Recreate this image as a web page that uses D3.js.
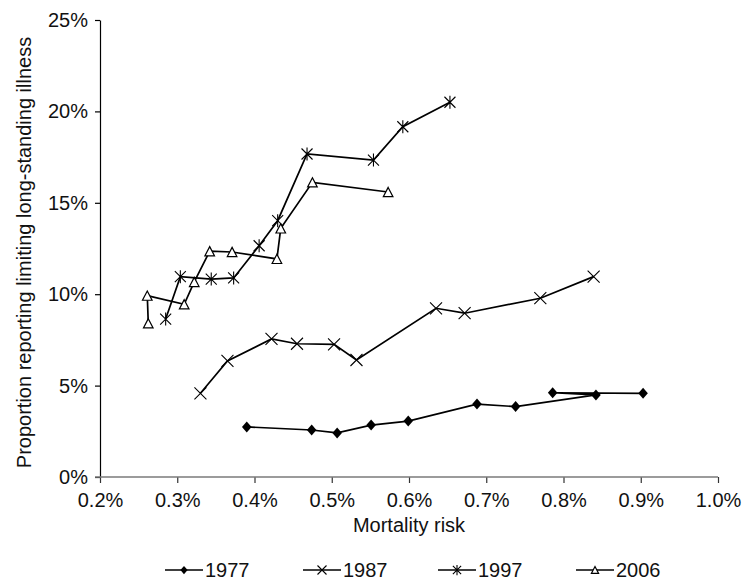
<!DOCTYPE html>
<html>
<head>
<meta charset="utf-8">
<script src="https://cdn.jsdelivr.net/npm/d3@7/dist/d3.min.js"></script>
<style>
  html, body { margin: 0; padding: 0; background: #fff; }
  svg { display: block; font-family: "Liberation Sans", Arial, sans-serif; }
</style>
</head>
<body>
<svg id="chart" width="744" height="581"></svg>
<script>
// Mortality risk (%) and proportion reporting limiting long-standing illness (%), by survey year
const years = ["1977", "1987", "1997", "2006"];

const mort1977 = [0.39, 0.474, 0.507, 0.551, 0.599, 0.688, 0.738, 0.842, 0.786, 0.903];
const ill1977  = [2.74, 2.57, 2.41, 2.84, 3.06, 3.99, 3.85, 4.49, 4.61, 4.58];

const mort1987 = [0.330, 0.365, 0.422, 0.455, 0.503, 0.532, 0.635, 0.672, 0.770, 0.839];
const ill1987  = [4.58, 6.35, 7.55, 7.29, 7.26, 6.40, 9.23, 8.96, 9.78, 10.96];

const mort1997 = [0.285, 0.304, 0.344, 0.373, 0.406, 0.430, 0.468, 0.554, 0.592, 0.653];
const ill1997  = [8.64, 10.96, 10.83, 10.89, 12.65, 14.02, 17.67, 17.34, 19.16, 20.50];

const mort2006 = [0.2625, 0.2612, 0.309, 0.322, 0.342, 0.371, 0.429, 0.434, 0.475, 0.573];
const ill2006  = [8.41, 9.92, 9.45, 10.67, 12.35, 12.31, 11.93, 13.60, 16.12, 15.59];

const xTicks = [0.2, 0.3, 0.4, 0.5, 0.6, 0.7, 0.8, 0.9, 1.0];
const yTicks = [0, 5, 10, 15, 20, 25];

const series = [
  { name: years[0], x: mort1977, y: ill1977, marker: "diamond" },
  { name: years[1], x: mort1987, y: ill1987, marker: "cross" },
  { name: years[2], x: mort1997, y: ill1997, marker: "star" },
  { name: years[3], x: mort2006, y: ill2006, marker: "triangle" }
];

const svg = d3.select("#chart");
const plotLeft = 100, plotRight = 718, plotTop = 20, plotBottom = 477;

const x = d3.scaleLinear().domain([0.2, 1.0]).range([plotLeft, plotRight]);
const y = d3.scaleLinear().domain([0, 25]).range([plotBottom, plotTop]);

// Axes
const yAxis = svg.append("g")
  .attr("transform", `translate(${plotLeft},0)`)
  .call(d3.axisLeft(y).tickValues(yTicks).tickSize(5).tickSizeOuter(0)
        .tickFormat(d => d + "%"));
yAxis.select(".domain").attr("stroke", "#000").attr("stroke-width", 1.2);
yAxis.selectAll(".tick line").attr("stroke", "#000").attr("stroke-width", 1.2);
yAxis.selectAll(".tick text").attr("font-size", 20).attr("fill", "#111")
  .attr("font-family", "Liberation Sans, Arial, sans-serif").attr("x", -12);

const xAxis = svg.append("g")
  .attr("transform", `translate(0,${plotBottom})`)
  .call(d3.axisBottom(x).tickValues(xTicks).tickSize(6).tickSizeOuter(0)
        .tickFormat(d => d3.format(".1f")(d) + "%"));
xAxis.select(".domain").remove();
xAxis.selectAll(".tick line").attr("stroke", "#333").attr("stroke-width", 1.2);
xAxis.selectAll(".tick text").attr("font-size", 20).attr("fill", "#111")
  .attr("font-family", "Liberation Sans, Arial, sans-serif").attr("dy", "1.05em");
// grey baseline, running a little left of the y axis
svg.append("line").attr("x1", plotLeft - 5).attr("x2", plotRight).attr("y1", plotBottom).attr("y2", plotBottom)
  .attr("stroke", "#7a7a7a").attr("stroke-width", 1.6);

// Axis titles
svg.append("text")
  .attr("x", (plotLeft + plotRight) / 2).attr("y", 532)
  .attr("text-anchor", "middle").attr("font-size", 20).attr("fill", "#111")
  .text("Mortality risk");
svg.append("text")
  .attr("transform", `translate(31,${(plotTop + plotBottom) / 2 + 4}) rotate(-90)`)
  .attr("text-anchor", "middle").attr("font-size", 20).attr("fill", "#111")
  .text("Proportion reporting limiting long-standing illness");

// Marker drawing
function drawMarker(g, type, s) {
  if (type === "diamond") {
    g.append("path")
      .attr("d", `M0,${-5.5 * s}L${4.8 * s},0L0,${5.5 * s}L${-4.8 * s},0Z`)
      .attr("fill", "#000");
  } else if (type === "cross") {
    const h = 6 * s;
    g.append("path").attr("d", `M${-h},${-h}L${h},${h}M${-h},${h}L${h},${-h}`)
      .attr("stroke", "#000").attr("stroke-width", 1.1).attr("fill", "none");
  } else if (type === "star") {
    const h = 5.5 * s;
    g.append("path").attr("d", `M${-h},${-h}L${h},${h}M${-h},${h}L${h},${-h}M0,${-h - 1}L0,${h + 1}`)
      .attr("stroke", "#000").attr("stroke-width", 1.1).attr("fill", "none");
  } else if (type === "triangle") {
    const w = 4.8 * s, hh = 4.6 * s;
    g.append("path").attr("d", `M0,${-hh}L${w},${hh}L${-w},${hh}Z`)
      .attr("stroke", "#000").attr("stroke-width", 1.2).attr("fill", "#fff");
  }
}

const line = d3.line().x(d => x(d[0])).y(d => y(d[1]));

series.forEach(s => {
  const pts = s.x.map((v, i) => [v, s.y[i]]);
  svg.append("path").datum(pts)
    .attr("d", line).attr("fill", "none")
    .attr("stroke", "#000").attr("stroke-width", 1.7);
});
series.forEach(s => {
  const pts = s.x.map((v, i) => [v, s.y[i]]);
  svg.append("g").selectAll("g").data(pts).join("g")
    .attr("transform", d => `translate(${x(d[0])},${y(d[1])})`)
    .each(function () { drawMarker(d3.select(this), s.marker, 1); });
});

// Legend
const legendX = [165, 303, 438, 576];
const legendY = 570;
series.forEach((s, i) => {
  const g = svg.append("g").attr("transform", `translate(${legendX[i]},${legendY})`);
  g.append("line").attr("x1", 0).attr("x2", 38).attr("y1", 0).attr("y2", 0)
    .attr("stroke", "#000").attr("stroke-width", 1.7);
  const m = g.append("g").attr("transform", "translate(19,0)");
  drawMarker(m, s.marker, 0.75);
  g.append("text").attr("x", 40).attr("y", 7).attr("font-size", 20).attr("fill", "#111")
    .text(s.name);
});
</script>
</body>
</html>
